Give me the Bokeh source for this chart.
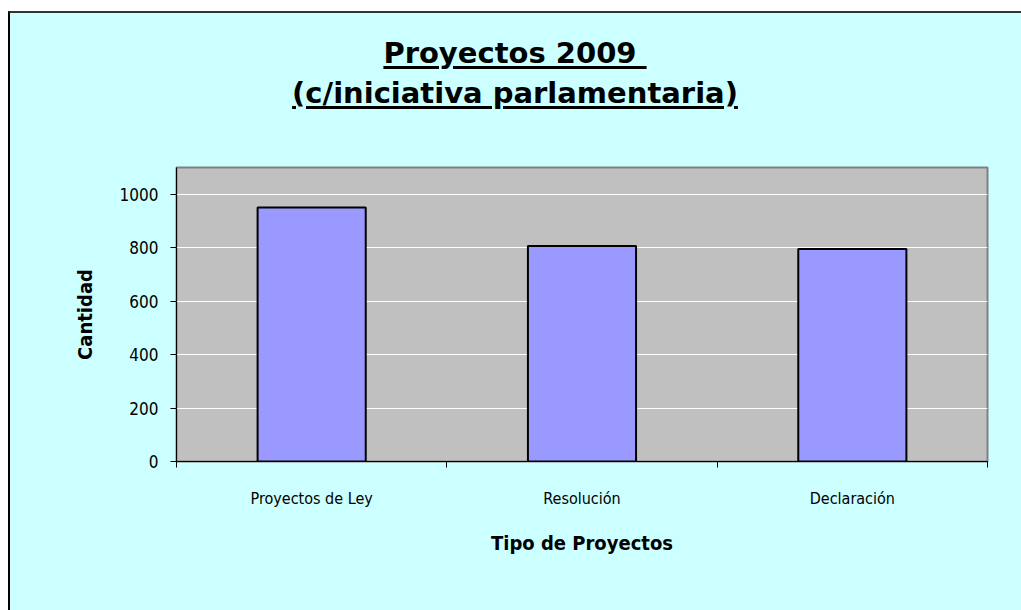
from bokeh.plotting import figure
from bokeh.models import ColumnDataSource, Range1d, FixedTicker, Div
from bokeh.layouts import column
from bokeh.embed import file_html
from bokeh.resources import INLINE

categories = ["Proyectos de Ley", "Resolución", "Declaración"]
values = [950, 806, 795]
y_ticks = [0, 200, 400, 600, 800, 1000]
title_lines = ["Proyectos 2009 ", "(c/iniciativa parlamentaria)"]
x_axis_title = "Tipo de Proyectos"
y_axis_title = "Cantidad"

positions = [i + 0.5 for i in range(len(categories))]
source = ColumnDataSource(dict(x=positions, top=values, cat=categories))

BG = "#CCFFFF"
W = 1011
DIV_H = 127
FIG_H = 470

# ---- title block (underlined, two lines) ----
span_style = ("text-decoration:underline;text-decoration-thickness:3px;"
              "text-underline-offset:3px;white-space:pre;")
html = ('<div style="font-family:\'DejaVu Sans\',sans-serif;font-weight:bold;'
        'font-size:29px;line-height:40px;text-align:center;color:black;'
        'width:974px;padding-top:20px;padding-left:36px;">'
        + "<br>".join(f'<span style="{span_style}">{t}</span>' for t in title_lines)
        + "</div>")
title_div = Div(text=html, width=W, height=DIV_H,
                styles={"background-color": BG, "margin": "0", "padding": "0"})

# ---- chart ----
p = figure(width=W, height=FIG_H, output_backend="svg", toolbar_location=None,
           x_range=Range1d(0, len(categories)), y_range=Range1d(0, 1100),
           min_border_left=166, min_border_right=34, min_border_top=27,
           min_border_bottom=149)
p.background_fill_color = "#C0C0C0"
p.border_fill_color = BG
p.outline_line_color = "#808080"
p.outline_line_width = 2

p.vbar(x="x", top="top", width=0.4, bottom=0, source=source,
       fill_color="#9999FF", line_color="black", line_width=2)

p.xgrid.visible = False
p.ygrid.ticker = FixedTicker(ticks=y_ticks)
p.ygrid.grid_line_color = "white"
p.ygrid.grid_line_width = 1

narrow = "DejaVu Sans Condensed, Roboto, sans-serif"

ya = p.yaxis[0]
ya.ticker = FixedTicker(ticks=y_ticks)
ya.axis_line_color = "black"
ya.major_tick_line_color = "black"
ya.major_tick_out = 6
ya.major_tick_in = 0
ya.minor_tick_line_color = None
ya.major_label_text_font = narrow
ya.major_label_text_font_size = "17px"
ya.major_label_text_color = "black"
ya.major_label_standoff = 12
ya.axis_label = y_axis_title
ya.axis_label_text_font = narrow
ya.axis_label_text_font_style = "bold"
ya.axis_label_text_font_size = "20px"
ya.axis_label_text_color = "black"
ya.axis_label_standoff = 20

xa = p.xaxis[0]
xa.ticker = FixedTicker(ticks=positions, minor_ticks=list(range(len(categories) + 1)))
xa.major_label_overrides = {pos: c for pos, c in zip(positions, categories)}
xa.axis_line_color = "black"
xa.major_tick_line_color = None
xa.minor_tick_line_color = "black"
xa.minor_tick_out = 6
xa.minor_tick_in = 0
xa.major_label_text_font = narrow
xa.major_label_text_font_size = "16px"
xa.major_label_text_color = "black"
xa.major_label_standoff = 21
xa.axis_label = x_axis_title
xa.axis_label_text_font = narrow
xa.axis_label_text_font_style = "bold"
xa.axis_label_text_font_size = "20px"
xa.axis_label_text_color = "black"
xa.axis_label_standoff = 20

layout = column(title_div, p, spacing=0,
                styles={"margin-left": "8px", "margin-top": "11px",
                        "border-left": "2px solid black",
                        "border-top": "2px solid #333333",
                        "background-color": BG})

open("out.html", "w").write(file_html(layout, INLINE))
